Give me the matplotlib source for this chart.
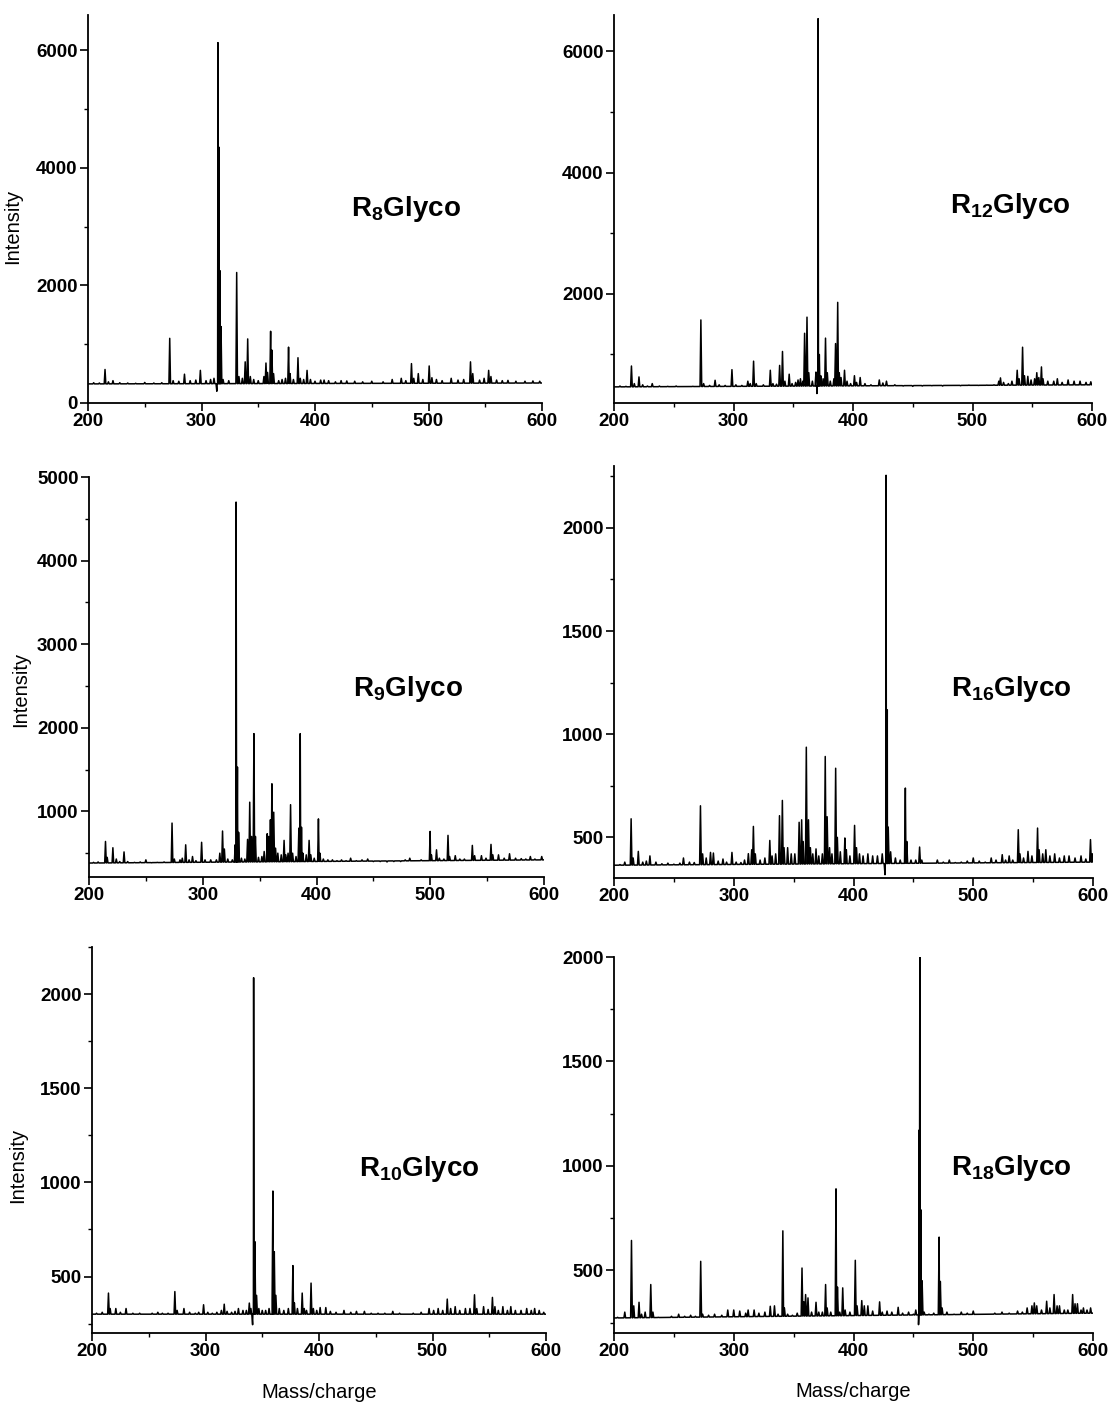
import numpy as np
import matplotlib
matplotlib.use("Agg")
import matplotlib.pyplot as plt
from matplotlib.ticker import MultipleLocator

plt.rcParams["font.family"] = ["Liberation Sans", "DejaVu Sans"]
plt.rcParams["mathtext.fontset"] = "custom"
plt.rcParams["mathtext.rm"] = "Liberation Sans"
plt.rcParams["mathtext.bf"] = "Liberation Sans:bold"

# ---- peak tables (m/z, intensity) ----
r8_mz = [205, 210, 215, 218, 222, 228, 235, 242, 250, 258, 265, 272, 275, 280, 285, 290, 295, 299, 304, 308,
         311, 313.5, 314.5, 315.5, 316.3, 317.2, 319, 324, 331, 333, 336, 338.5, 340.7, 343, 346, 350, 355,
         356.8, 358.2, 360.9, 362, 363.5, 368, 371, 374, 376.7, 378, 381, 385, 387, 390, 393, 396, 400, 405,
         408, 412, 418, 423, 428, 435, 442, 450, 460, 468, 476, 480, 485, 487, 491, 495, 500.6, 503, 507, 512,
         520, 526, 531, 537, 539, 545, 549, 553, 555, 560, 565, 570, 577, 585, 592, 598]
r8_int = [345, 340, 570, 360, 380, 345, 340, 335, 350, 340, 345, 1100, 380, 370, 490, 380, 390, 555, 380, 400,
          420, 200, 6130, 4350, 2250, 1300, 400, 380, 2220, 450, 420, 700, 1090, 450, 400, 380, 450,
          680, 520, 1220, 900, 500, 380, 400, 420, 950, 500, 400, 770, 420, 400, 555, 400, 370, 390,
          390, 380, 360, 380, 375, 370, 360, 370, 360, 400, 420, 380, 670, 420, 500, 400, 630, 430, 400, 380,
          420, 390, 400, 700, 500, 390, 420, 555, 450, 390, 380, 385, 370, 370, 375, 370]

r12_mz = [205, 210, 214.6, 217, 220.9, 224, 228, 232, 238, 245, 252, 260, 266, 272.7, 275, 280, 284.6, 288, 293,
          298.7, 302, 307, 312, 314, 316.8, 319, 325, 330.8, 333, 336, 338.6, 341, 343, 346.6, 349, 352, 354,
          356, 358, 359.5, 361.5, 363, 366, 369, 369.8, 370.8, 371.8, 373, 375, 377, 378.5, 381, 384, 385.4,
          387.2, 388.5, 390, 392.9, 395, 398, 401.2, 403, 406, 410, 415, 422, 425, 428, 435, 442, 450, 458,
          466, 475, 483, 490, 497, 505, 512, 518, 522, 523.4, 526, 530, 533, 537.4, 539, 541.9, 543.5, 546.3,
          549, 552, 553.8, 555.5, 557.7, 559, 563, 568, 571, 575, 580, 585, 590, 595, 599]
r12_int = [480, 475, 810, 520, 630, 500, 480, 520, 480, 475, 480, 470, 475, 1570, 520, 490, 575, 500, 490,
           750, 500, 490, 560, 520, 890, 520, 500, 740, 520, 510, 820, 1050, 560, 675, 520, 540, 580,
           600, 560, 1350, 1616, 700, 560, 710, 356, 6540, 1000, 650, 600, 1270, 700, 560, 600, 1180,
           1860, 700, 620, 740, 560, 520, 650, 540, 620, 520, 500, 580, 530, 560, 500, 480, 475, 480,
           485, 480, 490, 485, 495, 490, 495, 500, 560, 614, 540, 520, 560, 740, 600, 1120, 650, 640,
           580, 600, 700, 620, 795, 600, 560, 560, 600, 540, 580, 560, 560, 540, 550]

r9_mz = [204, 208, 214.5, 216, 221, 224, 227, 230.8, 234, 240, 245, 250, 255, 260, 266, 273, 275, 280, 282, 285,
         288, 291, 294, 299, 302, 307, 312, 315, 317.4, 319, 322, 326, 328.5, 329.3, 330.5, 331.5, 334, 337,
         339.4, 341.3, 343, 345, 346.3, 349, 352, 354, 356.7, 358, 359.5, 360.8, 362.4, 364, 366, 369, 371.5,
         373, 375, 377.2, 379, 382, 384.5, 385.7, 386.8, 388, 391, 393.5, 395, 398, 401.7, 403, 406, 410, 414,
         418, 422, 426, 430, 435, 440, 445, 450, 456, 462, 468, 474, 478, 482, 487, 492, 496, 499.9, 501,
         505.5, 508, 512, 515.6, 517, 522, 526, 530, 537, 539, 545, 549, 553.4, 555, 560, 565, 569.7, 575,
         580, 584, 588, 592, 598]
r9_int = [390, 395, 640, 450, 565, 430, 400, 515, 400, 390, 395, 420, 385, 390, 395, 860, 430, 420, 440, 600,
          420, 460, 410, 630, 420, 420, 420, 500, 765, 550, 430, 420, 600, 4700, 1530, 750, 440, 430,
          665, 1110, 700, 1930, 700, 450, 460, 520, 733, 700, 900, 1330, 990, 560, 500, 480, 653,
          480, 500, 1080, 500, 460, 800, 1930, 810, 500, 480, 653, 480, 440, 910, 500, 430, 420, 420,
          410, 420, 410, 440, 410, 420, 430, 400, 400, 395, 400, 400, 420, 440, 410, 420, 410, 760, 480,
          540, 440, 430, 713, 460, 470, 430, 430, 593, 470, 470, 440, 605, 480, 480, 440, 493, 440,
          435, 430, 460, 430, 460]

r16_mz = [205, 209, 214.3, 216, 220.3, 224, 227, 230, 235, 240, 245, 250, 255, 258, 263, 267, 272.2, 274, 277,
          280.6, 283, 287, 291, 294, 298.5, 302, 306, 309, 312.2, 315, 316.4, 318, 322, 326, 330.1, 332, 335,
          338.2, 340.6, 342, 345, 348, 351, 354.6, 356.7, 358, 360.6, 362.4, 364, 366, 368.7, 371, 374, 376.4,
          378, 380, 382, 385.1, 386.5, 389, 392.8, 394, 397, 400.9, 402.5, 405, 408, 412, 416, 420, 424,
          426.3, 427.2, 428.2, 429, 431, 435, 439, 443.3, 444.5, 448, 452, 455.2, 457, 461, 466, 470, 475,
          480, 485, 490, 495, 500, 505, 510, 515, 519, 524.2, 527, 530, 533, 537.6, 539, 542, 545.7, 549,
          553.7, 555, 558, 560.6, 564, 568, 572, 576, 580, 585, 590, 594, 597.9, 599.5]
r16_int = [368, 380, 590, 400, 432, 380, 385, 410, 380, 372, 375, 370, 375, 400, 380, 378, 653, 420, 400,
           427, 424, 385, 395, 380, 427, 380, 378, 390, 421, 440, 553, 420, 390, 400, 485, 410, 420,
           605, 679, 450, 450, 420, 420, 573, 585, 480, 937, 585, 450, 420, 444, 410, 420, 892,
           600, 450, 420, 835, 500, 430, 497, 440, 410, 558, 450, 420, 410, 420, 410, 410, 420,
           319, 2255, 1118, 550, 430, 400, 390, 739, 480, 390, 390, 453, 390, 375, 375, 390, 380,
           390, 378, 380, 385, 400, 385, 380, 400, 390, 416, 390, 410, 390, 537, 420, 400, 432, 410,
           545, 440, 420, 440, 410, 420, 400, 410, 410, 400, 410, 395, 489, 420]

r10_mz = [204, 209, 214.5, 216, 221, 225, 230, 236, 242, 248, 253, 258, 262, 267, 273, 275, 281, 286, 291, 294,
          298.3, 302, 306, 310, 314, 316.5, 319, 323, 326, 329, 333, 336, 338.6, 340, 341.5, 342.4, 343.5,
          345, 347, 350, 353, 356, 358.7, 359.4, 360.6, 362, 365, 369, 373, 377, 378.3, 381, 385.2, 387, 389,
          393, 395, 398, 401, 406, 410, 415, 422, 428, 433, 440, 446, 452, 458, 465, 471, 477, 483, 490, 497,
          501, 505, 509, 513, 516, 520, 524, 529, 533, 537, 539, 545, 549, 552.8, 555, 558, 562, 566, 569,
          573, 578, 583, 587, 590, 594, 598]
r10_int = [305, 310, 412, 330, 330, 310, 330, 305, 305, 300, 305, 310, 305, 305, 420, 320, 330, 310, 305, 310,
           350, 310, 305, 310, 320, 353, 315, 310, 315, 330, 320, 320, 359, 330, 244, 2087, 685,
           400, 330, 320, 320, 330, 376, 954, 632, 400, 330, 320, 330, 558, 360, 330, 412, 330, 320,
           465, 330, 320, 335, 335, 315, 310, 320, 310, 315, 315, 305, 305, 305, 315, 305, 300, 305, 310, 330,
           320, 330, 320, 380, 330, 340, 320, 330, 330, 403, 330, 340, 325, 389, 340, 320, 340, 320, 340,
           320, 320, 330, 320, 330, 320, 310]

r18_mz = [203, 209, 214.6, 216.5, 220.9, 223, 226, 230.7, 232.5, 237, 242, 248, 254, 259, 264, 268, 272.4, 274,
          279, 284, 290, 295, 300, 305, 310, 312, 317, 321, 326, 330.5, 334, 337, 341, 342.3, 345, 349, 353,
          357, 358.5, 360, 362, 365, 368.7, 371, 374, 376.7, 378, 381, 385.4, 386.6, 388.5, 391, 393, 397,
          401.5, 403, 406.9, 409, 412, 416, 421.8, 424, 428, 432, 437.3, 441, 446, 450, 452, 454.3, 454.9,
          455.4, 456.2, 457.3, 459, 463, 467, 471.5, 472.5, 474, 478, 484, 490, 495, 500, 506, 512, 518, 524,
          530, 537, 541, 545, 549, 551, 553, 557, 561.3, 564, 567.5, 570, 572, 576, 579, 583, 585, 587, 590,
          592, 595, 598]
r18_int = [275, 300, 643, 330, 347, 290, 300, 432, 300, 275, 275, 280, 290, 280, 285, 280, 543, 290,
           285, 290, 285, 310, 310, 305, 295, 310, 310, 295, 300, 328, 330, 290, 689, 320, 290, 285, 295,
           511, 350, 384, 368, 300, 347, 300, 300, 432, 320, 300, 890, 420, 300, 416, 310, 300,
           548, 330, 355, 330, 330, 305, 349, 300, 305, 300, 323, 295, 300, 290, 310, 240, 1172,
           2000, 790, 450, 300, 290, 295, 659, 447, 320, 300, 290, 300, 295, 305, 290, 290, 295, 300,
           295, 305, 300, 320, 330, 344, 330, 310, 352, 320, 384, 330, 330, 310, 310, 384, 340, 340, 310,
           320, 310, 320]

names = ["8", "12", "9", "16", "10", "18"]
all_mz = [r8_mz, r12_mz, r9_mz, r16_mz, r10_mz, r18_mz]
all_int = [r8_int, r12_int, r9_int, r16_int, r10_int, r18_int]
baselines = [(325, 340), (466, 500), (382, 420), (365, 380), (300, 300), (272, 295)]
ylims = [(0, 6600), (200, 6600), (215, 5000), (303, 2300), (200, 2250), (200, 2000)]
ymajor = [2000, 2000, 1000, 500, 500, 500]
yticks = [[0, 2000, 4000, 6000], [2000, 4000, 6000], [1000, 2000, 3000, 4000, 5000],
          [500, 1000, 1500, 2000], [500, 1000, 1500, 2000], [500, 1000, 1500, 2000]]

# axes boxes in pixels: left, right, top, bottom
W, H = 1111, 1408
boxes = [(88, 542, 15, 403), (614, 1092, 15, 403),
         (89, 544, 477, 877), (614, 1093, 466, 878),
         (92, 546, 947, 1333), (614, 1093, 957, 1333)]
label_pos = [(0.70, 0.50), (0.83, 0.508), (0.70, 0.47), (0.83, 0.459), (0.72, 0.425), (0.83, 0.44)]
ylab_pos = [(-0.145, 0.456), None, (-0.13, 0.47), None, (-0.143, 0.435), None]

fig = plt.figure(figsize=(W / 100, H / 100), dpi=100)
hw = 0.7
for i in range(6):
    l, r, t, b = boxes[i]
    ax = fig.add_axes([l / W, 1 - b / H, (r - l) / W, (b - t) / H])
    mz = np.array(all_mz[i], float)
    inten = np.array(all_int[i], float)
    b0, b1 = baselines[i]
    base = np.interp(mz, [200, 600], [b0, b1])
    xs = np.concatenate([[200], mz - hw, mz, mz + hw, [600]])
    ys = np.concatenate([[b0], base, inten, base, [b1]])
    order = np.argsort(xs, kind="stable")
    ax.plot(xs[order], ys[order], color="black", lw=1.1)

    ax.set_xlim(200, 600)
    ax.set_ylim(*ylims[i])
    ax.set_xticks([200, 300, 400, 500, 600])
    ax.xaxis.set_minor_locator(MultipleLocator(50))
    ax.set_yticks(yticks[i])
    ax.yaxis.set_minor_locator(MultipleLocator(ymajor[i] / 2))
    for s in ["top", "right"]:
        ax.spines[s].set_visible(False)
    for s in ["left", "bottom"]:
        ax.spines[s].set_linewidth(1.3)
    ax.tick_params(which="major", direction="out", length=6, width=1.2, pad=1.5)
    ax.tick_params(which="minor", direction="out", length=3, width=1.0)
    for lab in ax.get_xticklabels() + ax.get_yticklabels():
        lab.set_fontweight("bold")
        lab.set_fontsize(13.5)

    ax.text(label_pos[i][0], label_pos[i][1], r"$\mathbf{R_{%s}Glyco}$" % names[i],
            transform=ax.transAxes, ha="center", va="center", fontsize=20)
    if ylab_pos[i] is not None:
        ax.set_ylabel("Intensity", fontsize=14.5)
        ax.yaxis.set_label_coords(*ylab_pos[i])
    if i >= 4:
        ax.set_xlabel("Mass/charge", fontsize=14.5, va="center")
        ax.xaxis.set_label_coords(0.5, -0.155)

fig.savefig("out.png", dpi=100)
